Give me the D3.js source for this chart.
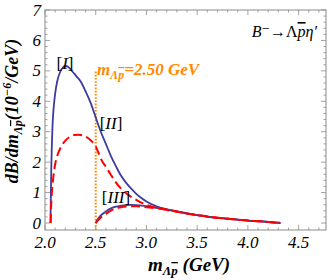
<!DOCTYPE html>
<html>
<head>
<meta charset="utf-8">
<script src="https://cdn.jsdelivr.net/npm/d3@7"></script>
<style>
  body { margin: 0; background: #fff; }
  svg { display: block; }
  text { font-family: "Liberation Serif", "DejaVu Serif", serif; }
</style>
</head>
<body>
<div id="chart"></div>
<script>
// curve [I]+[II], blue solid
var mBlueUp = [2.054, 2.058, 2.062, 2.067, 2.073, 2.08, 2.09, 2.10, 2.12, 2.15, 2.18, 2.20, 2.23, 2.27, 2.31, 2.35, 2.40, 2.45, 2.50,
  2.55, 2.60, 2.65, 2.70, 2.75, 2.80, 2.85, 2.90, 2.95, 3.00, 3.10, 3.20, 3.30, 3.40, 3.50, 3.60, 3.70, 3.80, 3.90, 4.00, 4.10, 4.20, 4.27, 4.32];
var vBlueUp = [0, 1.0, 1.8, 2.5, 3.1, 3.55, 3.95, 4.25, 4.65, 4.97, 5.12, 5.16, 5.13, 4.98, 4.82, 4.66, 4.33, 3.95, 3.47,
  3.0, 2.6, 2.2, 1.86, 1.55, 1.32, 1.13, 0.96, 0.82, 0.71, 0.55, 0.45, 0.37, 0.31, 0.26, 0.21, 0.17, 0.14, 0.11, 0.08, 0.06, 0.035, 0.015, 0];

// red dashed, upper
var mRedUp = [2.056, 2.06, 2.065, 2.07, 2.08, 2.09, 2.10, 2.12, 2.15, 2.18, 2.21, 2.25, 2.29, 2.33, 2.37, 2.41, 2.45, 2.48, 2.50,
  2.53, 2.56, 2.60, 2.65, 2.70, 2.75, 2.80, 2.85, 2.90, 2.95, 3.00, 3.10, 3.20, 3.30, 3.40, 3.50, 3.60, 3.70, 3.80, 3.90, 4.00, 4.10, 4.20, 4.27, 4.32];
var vRedUp = [0, 0.5, 0.85, 1.1, 1.45, 1.72, 1.93, 2.2, 2.45, 2.62, 2.74, 2.84, 2.89, 2.90, 2.88, 2.82, 2.72, 2.62, 2.52,
  2.28, 2.05, 1.85, 1.58, 1.33, 1.13, 0.98, 0.86, 0.76, 0.67, 0.60, 0.50, 0.43, 0.37, 0.31, 0.26, 0.21, 0.17, 0.14, 0.11, 0.08, 0.06, 0.035, 0.015, 0];

// curve [III], blue solid
var mBlueLow = [2.50, 2.52, 2.55, 2.60, 2.65, 2.70, 2.75, 2.80, 2.85, 2.90, 3.00, 3.10, 3.20, 3.30, 3.40, 3.50, 3.60, 3.70, 3.80, 3.90, 4.00, 4.10, 4.20, 4.27, 4.32];
var vBlueLow = [0, 0.12, 0.25, 0.38, 0.48, 0.54, 0.57, 0.59, 0.595, 0.59, 0.55, 0.50, 0.45, 0.38, 0.32, 0.26, 0.21, 0.17, 0.14, 0.11, 0.08, 0.06, 0.035, 0.015, 0];

// red dashed, lower
var mRedLow = [2.50, 2.52, 2.55, 2.60, 2.65, 2.70, 2.75, 2.80, 2.85, 2.90, 3.00, 3.10, 3.20, 3.30, 3.40, 3.50, 3.60, 3.70, 3.80, 3.90, 4.00, 4.10, 4.20, 4.27, 4.32];
var vRedLow = [0, 0.08, 0.18, 0.30, 0.41, 0.48, 0.52, 0.54, 0.55, 0.55, 0.52, 0.48, 0.44, 0.38, 0.31, 0.26, 0.21, 0.17, 0.14, 0.11, 0.08, 0.06, 0.035, 0.015, 0];

var mCut = 2.5, cutTop = 5.0;
var xTicks = [2.0, 2.5, 3.0, 3.5, 4.0, 4.5];
var yTicks = [0, 1, 2, 3, 4, 5, 6, 7];

var W = 332, H = 280;
var margin = {top: 10, right: 6, bottom: 50, left: 45};

var x = d3.scaleLinear().domain([2.0, 4.77]).range([margin.left, W - margin.right]);
var y = d3.scaleLinear().domain([-0.23, 7]).range([H - margin.bottom, margin.top]);

var svg = d3.select("#chart").append("svg").attr("width", W).attr("height", H);

var frameCol = "#8a8a8a";
var x0 = x.range()[0], x1 = x.range()[1], y0 = y.range()[0], y1 = y.range()[1];

// minor + major ticks, pointing inward on all four sides
var xMinor = d3.range(20, 48).map(function (d) { return d / 10; });
var yMinor = d3.range(0, 36).map(function (d) { return d / 5; });
var tk = svg.append("g").attr("stroke", frameCol).attr("stroke-width", 0.8);
xMinor.forEach(function (v) {
  var major = Math.abs(v * 2 - Math.round(v * 2)) < 1e-6;
  var len = major ? 5 : 2.5;
  tk.append("line").attr("x1", x(v)).attr("x2", x(v)).attr("y1", y0).attr("y2", y0 - len);
  tk.append("line").attr("x1", x(v)).attr("x2", x(v)).attr("y1", y1).attr("y2", y1 + len);
});
yMinor.forEach(function (v) {
  var major = Math.abs(v - Math.round(v)) < 1e-6;
  var len = major ? 5 : 2.5;
  tk.append("line").attr("y1", y(v)).attr("y2", y(v)).attr("x1", x0).attr("x2", x0 + len);
  tk.append("line").attr("y1", y(v)).attr("y2", y(v)).attr("x1", x1).attr("x2", x1 - len);
});

svg.append("rect").attr("x", x0).attr("y", y1).attr("width", x1 - x0).attr("height", y0 - y1)
  .attr("fill", "none").attr("stroke", frameCol).attr("stroke-width", 1);

// tick labels
svg.append("g").selectAll("text").data(xTicks).enter().append("text")
  .attr("x", function (d) { return x(d); }).attr("y", 248)
  .attr("text-anchor", "middle").attr("font-size", 17).attr("font-style", "italic")
  .text(function (d) { return d.toFixed(1); });
svg.append("g").selectAll("text").data(yTicks).enter().append("text")
  .attr("x", x0 - 4).attr("y", function (d) { return y(d) + 5.5; })
  .attr("text-anchor", "end").attr("font-size", 17).attr("font-style", "italic")
  .text(function (d) { return d; });

// cut line
svg.append("line").attr("x1", x(mCut)).attr("x2", x(mCut)).attr("y1", y0).attr("y2", y(cutTop))
  .attr("stroke", "#ff8a00").attr("stroke-width", 2).attr("stroke-dasharray", "1.6,1.6");

var line = d3.line().x(function (d) { return x(d[0]); }).y(function (d) { return y(d[1]); }).curve(d3.curveMonotoneX);
function pts(ms, vs) { return ms.map(function (m, i) { return [m, vs[i]]; }); }

svg.append("path").attr("d", line(pts(mBlueUp, vBlueUp))).attr("fill", "none").attr("stroke", "#3c3ca0").attr("stroke-width", 1.8);
svg.append("path").attr("d", line(pts(mBlueLow, vBlueLow))).attr("fill", "none").attr("stroke", "#3c3ca0").attr("stroke-width", 1.8);
svg.append("path").attr("d", line(pts(mRedUp, vRedUp))).attr("fill", "none").attr("stroke", "#ff0000").attr("stroke-width", 2).attr("stroke-dasharray", "9,4.5");
svg.append("path").attr("d", line(pts(mRedLow, vRedLow))).attr("fill", "none").attr("stroke", "#ff0000").attr("stroke-width", 2).attr("stroke-dasharray", "9,4.5");

// labels on curves
function lab(t, px, py) {
  svg.append("text").attr("x", px).attr("y", py).attr("font-size", 17).attr("text-anchor", "middle")
    .html('[<tspan font-style="italic">' + t + '</tspan>]');
}
lab("I", 65, 69);
lab("II", 111, 129);
lab("III", 116, 203);

// cut label
var ct = svg.append("text").attr("x", 97).attr("y", 75).attr("fill", "#ff8a00")
  .attr("font-size", 17).attr("font-weight", "bold").attr("font-style", "italic");
ct.append("tspan").text("m");
ct.append("tspan").attr("font-size", 12).attr("dy", 4).text("Λ");
ct.append("tspan").attr("font-size", 12).attr("text-decoration", "overline").text("p");
ct.append("tspan").attr("dy", -4).text("=2.50 GeV");

// decay label
var dt = svg.append("text").attr("x", 317).attr("y", 37).attr("text-anchor", "end").attr("font-size", 16);
dt.append("tspan").attr("font-style", "italic").text("B");
dt.append("tspan").text("⁻→Λ");
dt.append("tspan").attr("font-style", "italic").attr("text-decoration", "overline").text("p");
dt.append("tspan").attr("font-style", "italic").text("η′");

// x title
var xt = svg.append("text").attr("x", 189).attr("y", 271).attr("text-anchor", "middle")
  .attr("font-size", 19).attr("font-weight", "bold").attr("font-style", "italic");
xt.append("tspan").text("m");
xt.append("tspan").attr("font-size", 13).attr("dy", 4).text("Λ");
xt.append("tspan").attr("font-size", 13).attr("text-decoration", "overline").text("p");
xt.append("tspan").attr("dy", -4).text(" (GeV)");

// y title
var yt = svg.append("text").attr("transform", "translate(18,111) rotate(-90)").attr("text-anchor", "middle")
  .attr("font-size", 18).attr("font-weight", "bold").attr("font-style", "italic");
yt.append("tspan").text("dB/dm");
yt.append("tspan").attr("font-size", 12).attr("dy", 4).text("Λ");
yt.append("tspan").attr("font-size", 12).attr("text-decoration", "overline").text("p");
yt.append("tspan").attr("dy", -4).text("(10");
yt.append("tspan").attr("font-size", 12).attr("dy", -7).text("−6");
yt.append("tspan").attr("dy", 7).text("/GeV)");
</script>
</body>
</html>
